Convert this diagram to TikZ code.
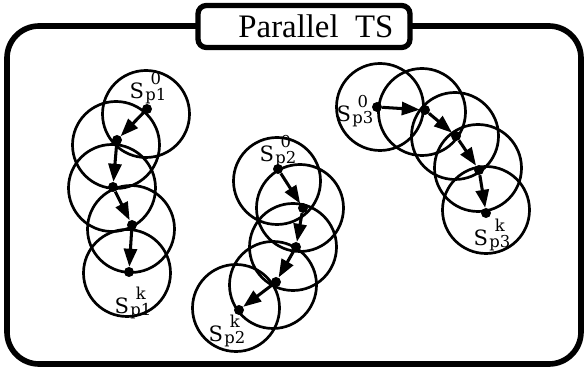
\documentclass[tikz,border=0pt]{standalone}
\usepackage{fontspec}
\setmainfont{Liberation Serif}
\newfontfamily\labelfont{DejaVu Serif}
\usetikzlibrary{arrows.meta}
\tikzset{
  ring/.style={circle, draw=black, line width=2.3pt,
    minimum size=2.61cm, inner sep=0pt},
  state/.style={circle, fill=black, minimum size=0.3cm, inner sep=0pt},
  move/.style={-{Triangle[length=5.4mm, width=3.9mm]}, line width=2.6pt},
  slabel/.style={font=\labelfont\fontsize{18}{19}\selectfont, inner sep=0pt},
  frame/.style={line width=4.8pt, rounded corners=9.6mm},
  titlebox/.style={draw, fill=white, line width=4.5pt, rounded corners=2.5mm,
    minimum width=6.36cm, minimum height=1.26cm, text width=5.36cm,
    align=right, inner xsep=0.5cm, font=\fontsize{28}{30}\selectfont}
}
% S with a script stacked over a subscript
\newcommand{\slab}[2]{S\kern1pt{\fontsize{14}{14}\selectfont
  \setbox0\hbox{#2}\setbox1\hbox{#1}%
  \rlap{\hbox to\wd0{\hfil\raisebox{12.5pt}{\box1}\hfil}}\raisebox{-1.5pt}{\box0}}}

\begin{document}
\begin{tikzpicture}[x=0.3mm, y=-0.3mm]
  \useasboundingbox (0,0) rectangle (585,369);

  % Outer frame and title
  \draw[frame] (7,26) rectangle (581,364);
  \node[titlebox] (title) at (304,26.5) {Parallel\hspace{0.5em}TS};

  % Search path 1
  \foreach \x/\y [count=\i] in {146/114, 116/145, 112/188, 131/229, 127/273}
    \node[ring] (r1\i) at (\x,\y) {};
  \foreach \x/\y [count=\i] in {147/109, 117/140, 113/187, 132/225, 129/272}
    \node[state] (s1\i) at (\x,\y) {};
  \foreach \i [evaluate=\i as \j using int(\i+1)] in {1,...,4}
    \draw[move] (s1\i) -- (s1\j);
  \node[slabel] (l1a) at (148,88) {\slab{0}{p1}};
  \node[slabel] (l1b) at (133,303) {\slab{k}{p1}};

  % Search path 2
  \foreach \x/\y [count=\i] in {277/181, 300/208, 293/247, 273/285, 236/308}
    \node[ring] (r2\i) at (\x,\y) {};
  \foreach \x/\y [count=\i] in {278/169, 303/208, 296/247, 276/282, 239/310}
    \node[state] (s2\i) at (\x,\y) {};
  \foreach \i [evaluate=\i as \j using int(\i+1)] in {1,...,4}
    \draw[move] (s2\i) -- (s2\j);
  \node[slabel] (l2a) at (278,151) {\slab{0}{p2}};
  \node[slabel] (l2b) at (227,331) {\slab{k}{p2}};

  % Search path 3
  \foreach \x/\y [count=\i] in {380/107, 422/112, 455/136, 478/168, 486/210}
    \node[ring] (r3\i) at (\x,\y) {};
  \foreach \x/\y [count=\i] in {377/107, 425/110, 456/136, 479/170, 486/213}
    \node[state] (s3\i) at (\x,\y) {};
  \foreach \i [evaluate=\i as \j using int(\i+1)] in {1,...,4}
    \draw[move] (s3\i) -- (s3\j);
  \node[slabel] (l3a) at (355,111) {\slab{0}{p3}};
  \node[slabel] (l3b) at (492,235) {\slab{k}{p3}};
\end{tikzpicture}
\end{document}
